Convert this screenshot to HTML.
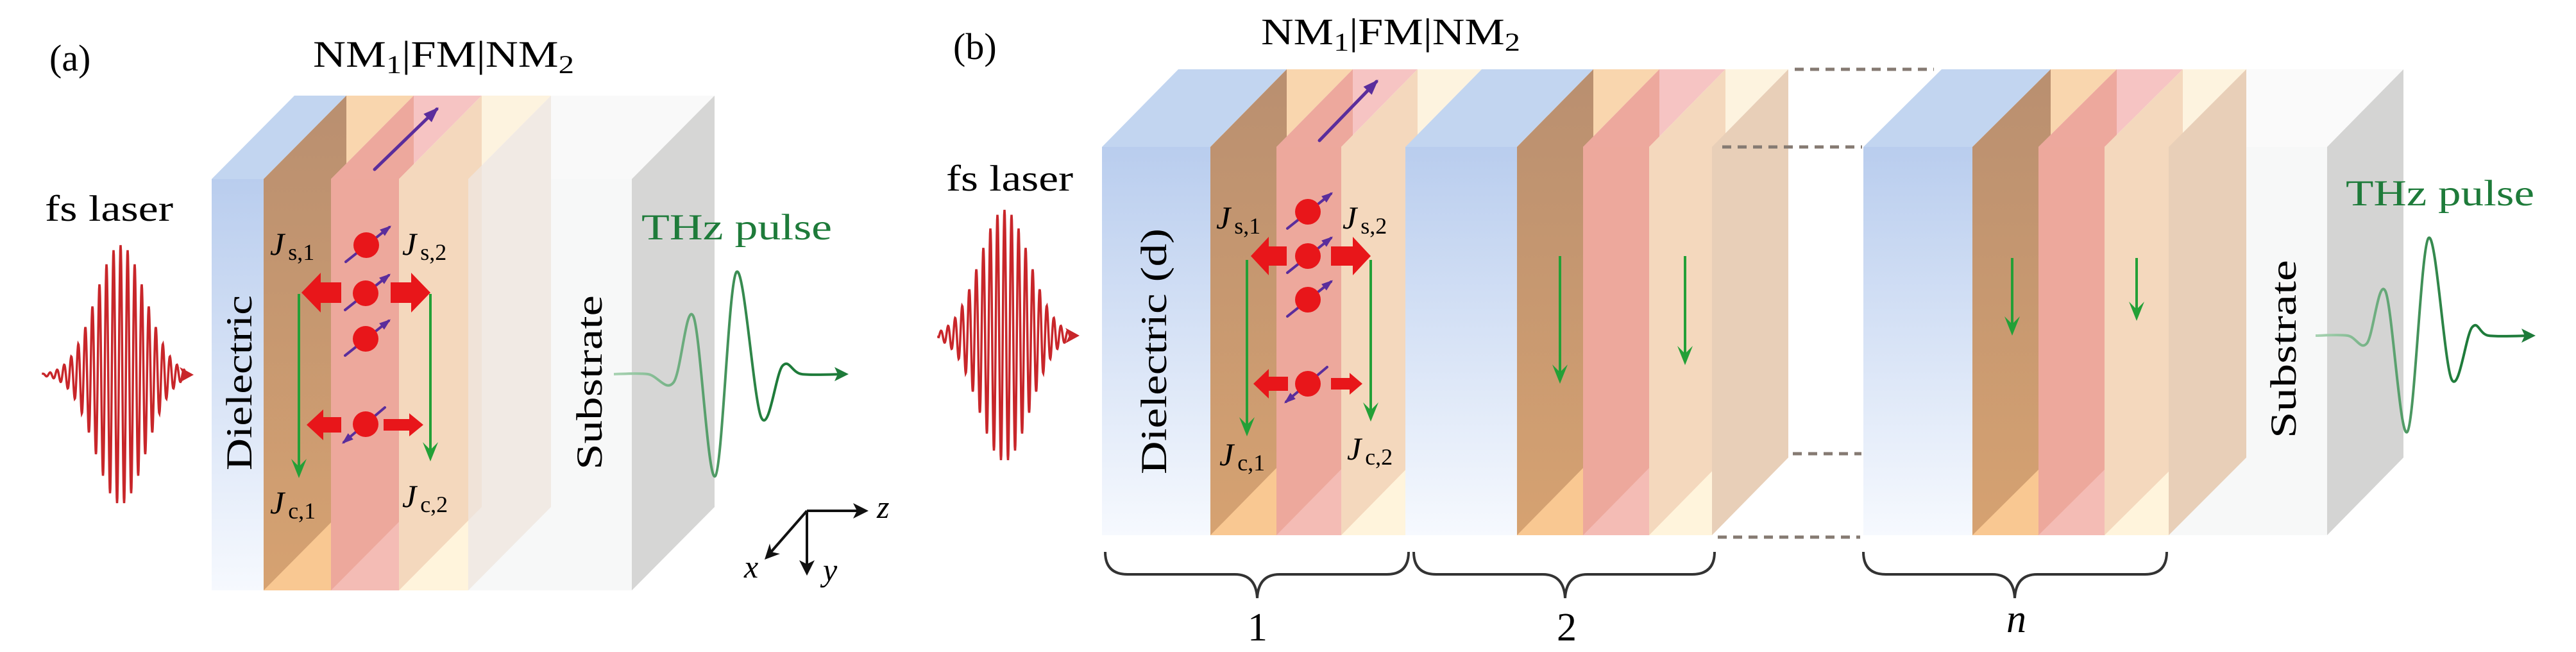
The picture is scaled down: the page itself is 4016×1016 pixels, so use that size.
<!DOCTYPE html>
<html><head><meta charset="utf-8"><style>
html,body{margin:0;padding:0;background:#fff;}
svg{display:block;}
svg text{font-family:"Liberation Serif","DejaVu Serif",serif !important;}
</style></head><body>
<svg id="s" width="4016" height="1016" viewBox="0 0 4016 1016" xmlns="http://www.w3.org/2000/svg" font-family="'Liberation Serif', 'DejaVu Serif', serif">
<defs>
<linearGradient id="blueA" x1="0" y1="0" x2="0" y2="1"><stop offset="0" stop-color="#b9cdee"/><stop offset="1" stop-color="#f6f9fe"/></linearGradient>
<linearGradient id="brownS" x1="0" y1="0" x2="0" y2="1"><stop offset="0" stop-color="#b98f70"/><stop offset="1" stop-color="#d6a271"/></linearGradient>
<linearGradient id="thzA" gradientUnits="userSpaceOnUse" x1="957" y1="0" x2="1200" y2="0"><stop offset="0" stop-color="#a9d3b3"/><stop offset="1" stop-color="#1e7b3a"/></linearGradient>
<linearGradient id="thzB" gradientUnits="userSpaceOnUse" x1="3610" y1="0" x2="3830" y2="0"><stop offset="0" stop-color="#a9d3b3"/><stop offset="1" stop-color="#1e7b3a"/></linearGradient>
</defs>
<g id="layers"></g>
<g id="over"></g>

<g font-family="'Liberation Serif', 'DejaVu Serif', serif">
<text x="77" y="110" font-size="58">(a)</text>
<text x="488" y="104" font-size="58" textLength="407" lengthAdjust="spacingAndGlyphs">NM<tspan font-size="40" dy="10">1</tspan><tspan dy="-10">|FM|NM</tspan><tspan font-size="40" dy="10">2</tspan></text>
<text x="70" y="344" font-size="57" textLength="200" lengthAdjust="spacingAndGlyphs">fs laser</text>
<text x="1000" y="373" font-size="57" fill="#1e7b3a" textLength="297" lengthAdjust="spacingAndGlyphs">THz pulse</text>
<text transform="translate(392,733) rotate(-90)" font-size="57" textLength="273" lengthAdjust="spacingAndGlyphs">Dielectric</text>
<text transform="translate(938,732) rotate(-90)" font-size="57" textLength="272" lengthAdjust="spacingAndGlyphs">Substrate</text>

<text x="1486" y="92" font-size="58">(b)</text>
<text x="1966" y="69" font-size="58" textLength="404" lengthAdjust="spacingAndGlyphs">NM<tspan font-size="40" dy="10">1</tspan><tspan dy="-10">|FM|NM</tspan><tspan font-size="40" dy="10">2</tspan></text>
<text x="1475" y="297" font-size="57" textLength="198" lengthAdjust="spacingAndGlyphs">fs laser</text>
<text x="3657" y="320" font-size="57" fill="#1e7b3a" textLength="294" lengthAdjust="spacingAndGlyphs">THz pulse</text>
<text transform="translate(1818,739) rotate(-90)" font-size="57" textLength="383" lengthAdjust="spacingAndGlyphs">Dielectric (d)</text>
<text transform="translate(3579,683) rotate(-90)" font-size="57" textLength="278" lengthAdjust="spacingAndGlyphs">Substrate</text>

<g font-size="50">
<text x="421" y="397"><tspan font-style="italic">J</tspan><tspan font-size="36" dy="8" dx="6">s,1</tspan></text>
<text x="627" y="397"><tspan font-style="italic">J</tspan><tspan font-size="36" dy="8" dx="6">s,2</tspan></text>
<text x="421" y="800"><tspan font-style="italic">J</tspan><tspan font-size="36" dy="8" dx="6">c,1</tspan></text>
<text x="627" y="790"><tspan font-style="italic">J</tspan><tspan font-size="36" dy="8" dx="6">c,2</tspan></text>
<text x="1896" y="356"><tspan font-style="italic">J</tspan><tspan font-size="36" dy="8" dx="6">s,1</tspan></text>
<text x="2093" y="356"><tspan font-style="italic">J</tspan><tspan font-size="36" dy="8" dx="6">s,2</tspan></text>
<text x="1901" y="725"><tspan font-style="italic">J</tspan><tspan font-size="36" dy="8" dx="6">c,1</tspan></text>
<text x="2100" y="716"><tspan font-style="italic">J</tspan><tspan font-size="36" dy="8" dx="6">c,2</tspan></text>
</g>
<g font-size="50" font-style="italic">
<text x="1367" y="807">z</text>
<text x="1160" y="900">x</text>
<text x="1283" y="905">y</text>
</g>
<g font-size="62">
<text x="1945" y="998">1</text>
<text x="2427" y="998">2</text>
<text x="3128" y="985" font-style="italic">n</text>
</g>
</g>

<g stroke="#111" stroke-width="4" fill="none">
<path d="M1258 796 H1348 M1258 796 V891 M1258 796 L1196 867"/>
</g>
<g fill="#111">
<path d="M1354 796 L1330 784 L1336 796 L1330 808 Z"/>
<path d="M1258 897 L1246 873 L1258 879 L1270 873 Z"/>
<path d="M1192 872 L1200 847 L1203 860 L1216 863 Z"/>
</g>

<g stroke="#333" stroke-width="4" fill="none">
<path d="M1723 860 Q1723 895 1758 895 L1925 895 Q1958 895 1960 932 Q1962 895 1995 895 L2162 895 Q2196 895 2196 860"/>
<path d="M2204 860 Q2204 895 2239 895 L2405 895 Q2438 895 2440 932 Q2442 895 2475 895 L2638 895 Q2673 895 2673 860"/>
<path d="M2905 860 Q2905 895 2940 895 L3106 895 Q3139 895 3141 932 Q3143 895 3176 895 L3344 895 Q3378 895 3378 860"/>
</g>
<g stroke="#857a72" stroke-width="5" stroke-dasharray="14 10" fill="none">
<path d="M2798 108 H3015 M2685 229 H2903 M2795 707 H2902 M2678 837 H2900"/>
</g>
</svg>
<script>
var NS="http://www.w3.org/2000/svg";
var L=document.getElementById('layers'), O=document.getElementById('over');
function el(p,tag,at){var e=document.createElementNS(NS,tag);for(var k in at)e.setAttribute(k,at[k]);p.appendChild(e);return e;}
function poly(pts,fill,op){el(L,'polygon',{points:pts.map(function(p){return p[0]+','+p[1]}).join(' '),fill:fill,'fill-opacity':op||1});}
function box(a,b,T,B,dx,dy,front,side,top,sop){
  poly([[a,T],[b,T],[b+dx,T+dy],[a+dx,T+dy]],top);
  poly([[a,T],[b,T],[b,B],[a,B]],front);
  if(side) poly([[a,T],[a+dx,T+dy],[a+dx,B+dy],[a,B]],side,sop||1);
}
function block(xs,T,B,dx,dy){
  box(xs[0],xs[1],T,B,dx,dy,'url(#blueA)',null,'#c2d5f0');
  box(xs[1],xs[2],T,B,dx,dy,'#f9c892','url(#brownS)','#f9d6ae');
  box(xs[2],xs[3],T,B,dx,dy,'#f4bcb5','#eca69b','#f6c4c3',0.95);
  box(xs[3],xs[4],T,B,dx,dy,'#fff4dc','#f3d6ba','#fdf3df',0.95);
}
var Ta=279,Ba=920,dxa=129,dya=-130;
poly([[730,Ta],[985,Ta],[1114,Ta+dya],[859,Ta+dya]],'#f9f9f9');
poly([[730,Ta],[985,Ta],[985,Ba],[730,Ba]],'#f7f8f8');
poly([[985,Ta],[1114,Ta+dya],[1114,Ba+dya],[985,Ba]],'#d6d6d5');
block([330,411,516,622,730],Ta,Ba,dxa,dya);
poly([[730,Ta],[859,Ta+dya],[859,Ba+dya],[730,Ba]],'#efe6df',0.8);
var Tb=229,Bb=834,dxb=119,dyb=-121;
block([1718,1887,1990,2091,2191],Tb,Bb,dxb,dyb);
block([2191,2365,2468,2571,2669],Tb,Bb,dxb,dyb);
poly([[2669,Tb],[2788,Tb+dyb],[2788,Bb+dyb],[2669,Bb]],'#e8cfb8');
poly([[3381,Tb],[3628,Tb],[3747,Tb+dyb],[3500,Tb+dyb]],'#fafafa');
poly([[3381,Tb],[3628,Tb],[3628,Bb],[3381,Bb]],'#f7f8f8');
poly([[3628,Tb],[3747,Tb+dyb],[3747,Bb+dyb],[3628,Bb]],'#d4d4d3');
block([2905,3075,3178,3281,3381],Tb,Bb,122,dyb);
poly([[3381,Tb],[3502,Tb+dyb],[3502,Bb+dyb],[3381,Bb]],'#e8cfb8');

function laser(cx,y0,A,x0,x1){
  var d='M'+x0+' '+y0;
  for(var x=x0;x<=x1-14;x+=0.5){var t=x-cx;var y=y0-A*Math.exp(-(t/55)*(t/55))*Math.cos(2*Math.PI*t/11);d+=' L'+x.toFixed(1)+' '+y.toFixed(1);}
  el(O,'path',{d:d,stroke:'#c8262a','stroke-width':3.5,fill:'none'});
  el(O,'path',{d:'M'+x1+' '+y0+' L'+(x1-22)+' '+(y0-12)+' L'+(x1-16)+' '+y0+' L'+(x1-22)+' '+(y0+12)+'Z',fill:'#c8262a'});
}
laser(188,584,202,67,302);
laser(1566,523,196,1463,1683);
function thz(pts,grad,col){
  var d='M'+pts[0][0]+' '+pts[0][1];
  for(var i=0;i<pts.length-1;i++){
    var p0=pts[i-1]||pts[i],p1=pts[i],p2=pts[i+1],p3=pts[i+2]||pts[i+1];
    var c1=[p1[0]+(p2[0]-p0[0])/6,p1[1]+(p2[1]-p0[1])/6],c2=[p2[0]-(p3[0]-p1[0])/6,p2[1]-(p3[1]-p1[1])/6];
    d+=' C'+c1[0]+' '+c1[1]+' '+c2[0]+' '+c2[1]+' '+p2[0]+' '+p2[1];
  }
  el(O,'path',{d:d,stroke:grad,'stroke-width':4,fill:'none'});
  var e=pts[pts.length-1];
  el(O,'path',{d:'M'+(e[0]+8)+' '+e[1]+' L'+(e[0]-14)+' '+(e[1]-11)+' L'+(e[0]-9)+' '+e[1]+' L'+(e[0]-14)+' '+(e[1]+11)+'Z',fill:col});
}
thz([[957,583],[1010,583],[1050,596],[1081,493],[1115,742],[1148,424],[1187,651],[1220,570],[1250,583],[1315,583]],'url(#thzA)','#1e7b3a');
thz([[3610,523],[3660,523],[3690,535],[3719,454],[3753,673],[3786,371],[3822,591],[3854,510],[3880,523],[3945,523]],'url(#thzB)','#1e7b3a');

function garrow(x,y0,y1){
  el(O,'line',{x1:x,y1:y0,x2:x,y2:y1-6,stroke:'#23a037','stroke-width':4});
  el(O,'path',{d:'M'+x+' '+y1+' L'+(x-12)+' '+(y1-30)+' L'+x+' '+(y1-18)+' L'+(x+12)+' '+(y1-30)+'Z',fill:'#23a037'});
}
garrow(466,458,745);garrow(671,458,719);
garrow(1944,405,680);garrow(2137,405,657);
garrow(2432,399,598);garrow(2627,399,569);
garrow(3137,402,523);garrow(3331,402,500);

function rarrow(tip,tail,y,hh,sh,hl){
  var s=tip<tail?1:-1;var hb=tip+s*hl;
  el(O,'polygon',{points:[[tip,y],[hb,y-hh],[hb,y-sh],[tail,y-sh],[tail,y+sh],[hb,y+sh],[hb,y+hh]].map(function(p){return p.join(',')}).join(' '),fill:'#e8161a'});
}
rarrow(470,532,456,31,16,30);rarrow(671,609,456,31,16,30);
rarrow(478,532,662,24,12,26);rarrow(660,598,662,18,9,22);
rarrow(1950,2006,399,30,15,28);rarrow(2137,2075,399,30,15,28);
rarrow(1954,2008,598,23,11,24);rarrow(2124,2075,598,17,9,20);

function parrow(x0,y0,x1,y1,w,h){
  el(O,'line',{x1:x0,y1:y0,x2:x1,y2:y1,stroke:'#5a2d9c','stroke-width':w,'stroke-linecap':'round'});
  var a=Math.atan2(y1-y0,x1-x0),c=Math.cos(a),s=Math.sin(a);
  var bx=x1-c*h,by=y1-s*h;
  el(O,'polygon',{points:[x1+c*4,y1+s*4].join(',')+' '+[bx-s*h*0.45,by+c*h*0.45].join(',')+' '+[bx+s*h*0.45,by-c*h*0.45].join(','),fill:'#5a2d9c'});
}
function ball(x,y,up){
  if(up) parrow(x-32,y+26,x+36,y-28,4,14); else parrow(x+30,y-26,x-34,y+28,4,14);
  el(O,'circle',{cx:x,cy:y,r:20,fill:'#e8161a'});
}
ball(571,382,1);ball(570,457,1);ball(570,528,1);ball(570,661,0);
ball(2039,330,1);ball(2039,399,1);ball(2039,467,1);ball(2039,598,0);
parrow(584,264,681,170,5,20);
parrow(2057,219,2146,127,5,20);
</script>
</body></html>
